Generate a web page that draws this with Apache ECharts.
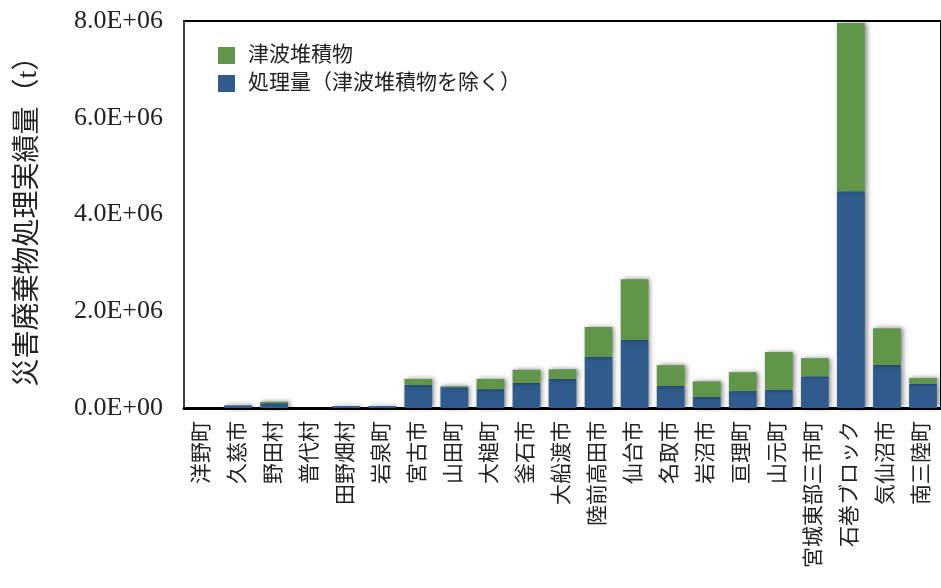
<!DOCTYPE html>
<html>
<head>
<meta charset="utf-8">
<script src="https://cdn.jsdelivr.net/npm/echarts@6/dist/echarts.min.js"></script>
<style>
  html, body { margin: 0; padding: 0; background: #fff; }
  #chart { width: 941px; height: 588px; }
</style>
</head>
<body>
<div id="chart"></div>
<script>
// Municipalities / treatment blocks along the x axis
const categories = [
  '洋野町', '久慈市', '野田村', '普代村', '田野畑村', '岩泉町', '宮古市',
  '山田町', '大槌町', '釜石市', '大船渡市', '陸前高田市', '仙台市', '名取市',
  '岩沼市', '亘理町', '山元町', '宮城東部三市町', '石巻ブロック', '気仙沼市', '南三陸町'
];

// Disaster waste processed, excluding tsunami sediment (t)
const processed = [
  0, 55000, 100000, 0, 40000, 40000, 480000,
  430000, 390000, 520000, 600000, 1055000, 1410000, 455000,
  230000, 350000, 380000, 655000, 4480000, 890000, 505000
];

// Tsunami sediment processed (t)
const sediment = [
  0, 5000, 30000, 0, 0, 0, 120000,
  20000, 210000, 270000, 200000, 620000, 1250000, 430000,
  320000, 390000, 780000, 375000, 3480000, 760000, 115000
];

// Value-axis tick labels, from 0 up to 8.0E+06
const yTickLabels = ['0.0E+00', '2.0E+06', '4.0E+06', '6.0E+06', '8.0E+06'];

const seriesNames = ['処理量（津波堆積物を除く）', '津波堆積物'];
const legendOrder = ['津波堆積物', '処理量（津波堆積物を除く）'];

const FONT = '"Liberation Serif", "Noto Sans CJK JP", serif';
const BLUE = '#2f5b8d';
const GREEN = '#61964a';

const barShadow = {
  shadowBlur: 5,
  shadowOffsetX: 2,
  shadowOffsetY: 0,
  shadowColor: 'rgba(0,0,0,0.5)'
};

const chart = echarts.init(document.getElementById('chart'), null, { renderer: 'canvas' });

chart.setOption({
  animation: false,
  backgroundColor: '#ffffff',
  textStyle: { fontFamily: FONT },
  grid: {
    left: 184, right: -7, top: 21, bottom: 180,
    show: true, borderColor: '#000', borderWidth: 2, backgroundColor: 'transparent'
  },
  legend: {
    orient: 'vertical',
    left: 213, top: 40,
    itemWidth: 17, itemHeight: 17, itemGap: 7,
    icon: 'rect',
    data: legendOrder,
    textStyle: { fontFamily: FONT, fontSize: 21, color: '#222', padding: [0, 0, 0, 8] }
  },
  xAxis: {
    type: 'category',
    data: categories,
    axisLine: { lineStyle: { color: '#000', width: 3 } },
    axisTick: { show: false },
    axisLabel: {
      rotate: 90,
      interval: 0,
      margin: 13,
      fontFamily: FONT,
      fontSize: 21,
      color: '#222'
    }
  },
  yAxis: {
    type: 'value',
    min: 0, max: 8000000, interval: 2000000,
    name: '災害廃棄物処理実績量（t）',
    nameLocation: 'middle',
    nameRotate: 90,
    nameGap: 141,
    nameTextStyle: { fontFamily: FONT, fontSize: 28, color: '#222' },
    axisLine: { show: true, lineStyle: { color: '#555', width: 1.5 } },
    axisTick: { show: false },
    splitLine: { show: false },
    axisLabel: {
      margin: 21,
      fontFamily: FONT,
      fontSize: 26,
      color: '#222',
      formatter: function (v) { return yTickLabels[Math.round(v / 2000000)]; }
    }
  },
  series: [
    {
      name: seriesNames[0],
      type: 'bar',
      stack: 'total',
      barCategoryGap: '23%',
      data: processed,
      itemStyle: Object.assign({ color: BLUE }, barShadow)
    },
    {
      name: seriesNames[1],
      type: 'bar',
      stack: 'total',
      barCategoryGap: '23%',
      data: sediment,
      itemStyle: Object.assign({ color: GREEN }, barShadow)
    }
  ]
});
</script>
</body>
</html>
